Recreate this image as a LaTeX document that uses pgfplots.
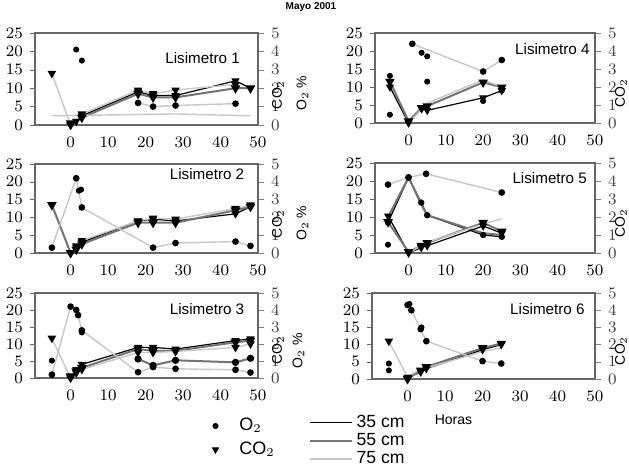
\documentclass[border=0pt]{standalone}
\usepackage{fontspec}
\setsansfont{Liberation Sans}
\usepackage{pgfplots}
\pgfplotsset{compat=1.18}

\tikzset{lis/.style={anchor=north east, inner sep=0pt, font=\fontsize{7.6}{9}\selectfont\sffamily}}
\pgfplotsset{
  l35/.style={black, line width=0.6pt},
  l55/.style={black!55, line width=1pt},
  l75/.style={black!22, line width=0.7pt},
  tri/.style={mark=triangle*, mark size=1.8pt, mark options={rotate=180, fill=black, draw=black, solid}},
  circ/.style={mark=*, mark size=1.3pt, mark options={fill=black, draw=black, solid}},
  panel/.style={
    scale only axis, ymin=0, ymax=25, ytick={0,5,...,25},
    xtick={0,10,...,50}, xmax=50,
    axis line style={black!60, line width=0.9pt},
    tick label style={font=\footnotesize},
    ytick pos=left, xtick pos=bottom, tick align=outside,
    major tick length=2.5pt, major x tick style={draw=none},
    y tick style={black!60},
  },
  rpanel/.style={
    scale only axis, ymin=0, ymax=5, ytick={0,...,5}, xmax=50,
    axis x line=none, axis y line*=right,
    axis line style={black!60, line width=0.9pt},
    tick label style={font=\footnotesize, black!75},
    tick align=outside, major tick length=3pt, y tick style={black!50},
    ylabel={CO$_2$},
    ylabel style={font=\scriptsize\sffamily, at={(rel axis cs:1,0.33)}, anchor=center, yshift=-#1},
  },
  rpanel/.default=10pt,
  olabel/.style={ylabel={O$_2$ \%},
    ylabel style={font=\scriptsize\sffamily, at={(rel axis cs:-0.33,0.33)}, anchor=center}},
}

\begin{document}
\begin{tikzpicture}
\useasboundingbox (0,0) rectangle (314.5pt,233pt);
\node[font=\fontsize{5}{6}\selectfont\sffamily\bfseries] at (155.5pt,229.5pt) {Mayo 2001};

% ---------- Lisimetro 1
\begin{axis}[panel, at={(17.5pt,170.5pt)}, anchor=south west, width=111.5pt, height=46pt, xmin=-9.5]
\addplot[l75, tri] coordinates {(-5,14) (0,0)};
\addplot[l35, tri] coordinates {(0,0) (1.5,1) (3,2.5) (18,9) (22,8) (28,8) (44,12) (48,10)};
\addplot[l55, tri] coordinates {(0,0.5) (3,2) (18,8.5) (22,7.5) (28,7.5) (44,10) (48,10)};
\addplot[l75, tri] coordinates {(0,0) (3,3) (18,9.5) (22,8.5) (28,9.5) (44,11)};
\addplot[only marks, circ] coordinates {(1.5,20.5) (3,17.5)};
\addplot[l75, circ] coordinates {(18,6) (22,5) (28,5.3) (44,5.8)};
\addplot[l75] coordinates {(-5,2.5) (28,3) (48,2.5)};
\node[lis] at (rel axis cs:0.92,0.79) {Lisimetro 1};
\end{axis}
\begin{axis}[rpanel, at={(17.5pt,170.5pt)}, anchor=south west, width=111.5pt, height=46pt, xmin=-9.5]
\end{axis}

% ---------- Lisimetro 2
\begin{axis}[panel, at={(17.5pt,106.5pt)}, anchor=south west, width=111.5pt, height=44.5pt, xmin=-9.5]
\addplot[l55, tri] coordinates {(-5,13.5) (0,0)};
\addplot[l35, tri] coordinates {(0,0) (1.5,1.5) (3,3) (18,9) (22,9.5) (28,9) (44,11) (48,13)};
\addplot[l55, tri] coordinates {(1.5,1) (3,2.5) (18,8.5) (22,8.5) (28,8.5) (44,12) (48,13)};
\addplot[l75, tri] coordinates {(1.5,2) (3,3.5) (18,9) (22,9.8) (28,9.5) (44,12.5) (48,13.5)};
\addplot[l75, circ] coordinates {(-5,1.5) (1.5,21) (3,12.8) (22,1.5) (28,2.8) (44,3.2) (48,2)};
\addplot[only marks, circ] coordinates {(2.2,17.5) (2.8,17.8)};
\node[lis] at (rel axis cs:0.94,0.95) {Lisimetro 2};
\end{axis}
\begin{axis}[rpanel, at={(17.5pt,106.5pt)}, anchor=south west, width=111.5pt, height=44.5pt, xmin=-9.5]
\end{axis}

% ---------- Lisimetro 3
\begin{axis}[panel, at={(17.5pt,44pt)}, anchor=south west, width=111.5pt, height=42.5pt, xmin=-9.5]
\addplot[l75, tri] coordinates {(-5,11.7) (0,0)};
\addplot[l35, tri] coordinates {(0,0) (1.5,2.5) (3,4) (18,9) (22,9) (28,8.5) (44,11) (48,11.5)};
\addplot[l55, tri] coordinates {(0,0.5) (1.5,2) (3,3) (18,8.5) (22,8) (28,8) (44,10.5) (48,11)};
\addplot[l75, tri] coordinates {(0,0.5) (1.5,1.5) (3,2.5) (18,7.5) (22,7.5) (28,7.8) (44,9) (48,10)};
\addplot[l55, circ] coordinates {(18,5.6) (22,3.7) (28,5.2) (44,4.6) (48,5.8)};
\addplot[l75, circ] coordinates {(-5,1) (0,21) (1.5,20) (2,18.5) (3,14) (18,1.7) (22,3.2) (28,2.7) (44,2.4) (48,1.6)};
\addplot[only marks, circ] coordinates {(-5,5.1) (3,13.4)};
\node[lis] at (rel axis cs:0.94,0.88) {Lisimetro 3};
\end{axis}
\begin{axis}[rpanel, at={(17.5pt,44pt)}, anchor=south west, width=111.5pt, height=42.5pt, xmin=-9.5]
\end{axis}

% ---------- Lisimetro 4
\begin{axis}[panel, olabel, at={(187.5pt,171.5pt)}, anchor=south west, width=110pt, height=45pt, xmin=-9]
\addplot[l35, tri] coordinates {(-5,10) (0,0) (3.5,4) (5,3.5) (20,7) (25,9)};
\addplot[l55, tri] coordinates {(-5,11.5) (0,0.5) (3.5,4.2) (5,4.7) (20,11.3) (25,9.9)};
\addplot[l75] coordinates {(0,0) (5,5.5) (20,12) (25,10)};
\addplot[l75, circ] coordinates {(1,22) (20,14.3) (25,17.5)};
\addplot[only marks, circ] coordinates {(-5,13.1) (-5,2.3) (3.5,19.5) (5,18.5) (5,11.5) (20,6.1) (25,9)};
\node[lis] at (rel axis cs:0.977,0.89) {Lisimetro 4};
\end{axis}
\begin{axis}[rpanel=13pt, at={(187.5pt,171.5pt)}, anchor=south west, width=110pt, height=45pt, xmin=-9]
\end{axis}

% ---------- Lisimetro 5
\begin{axis}[panel, olabel, at={(187.5pt,106.5pt)}, anchor=south west, width=110pt, height=45pt, xmin=-9]
\addplot[l35, circ] coordinates {(-5.5,8.5) (0,21) (3.4,14) (5,10.5) (20,5) (25,4.5)};
\addplot[l55] coordinates {(-5.5,10) (0,21) (3.4,13.5) (5,10.5) (20,5.5) (25,5)};
\addplot[l35, tri] coordinates {(-5.5,10.3) (0,0) (3.4,1.5) (5,2) (20,7.5) (25,5.5)};
\addplot[l55, tri] coordinates {(-5.5,8.6) (0,0.3) (3.4,2) (5,2.8) (20,8.4) (25,6)};
\addplot[l75] coordinates {(0,0) (5,3) (20,8) (25,9.5)};
\addplot[l75, circ] coordinates {(-5.5,19) (0,21) (4.7,22) (25,16.8)};
\addplot[only marks, circ] coordinates {(-5.5,2.3)};
\node[lis] at (rel axis cs:0.965,0.9) {Lisimetro 5};
\end{axis}
\begin{axis}[rpanel=13pt, at={(187.5pt,106.5pt)}, anchor=south west, width=110pt, height=45pt, xmin=-9]
\end{axis}

% ---------- Lisimetro 6
\begin{axis}[panel, olabel, at={(186pt,43.5pt)}, anchor=south west, width=111.5pt, height=43pt, xmin=-9.5,
  xlabel={Horas}, xlabel style={font=\scriptsize\sffamily, xshift=-15pt}]
\addplot[l75, tri] coordinates {(-5,11) (0,0.5)};
\addplot[l35, tri] coordinates {(0,0.5) (3.5,2) (5,3) (20,8.5) (25,10)};
\addplot[l55, tri] coordinates {(0,0) (3.5,2.5) (5,3.5) (20,9) (25,10.3)};
\addplot[l75] coordinates {(0,0.8) (3.5,2.8) (5,3.2) (20,8) (25,9)};
\addplot[l75, circ] coordinates {(0,21.5) (1,20) (3.5,14.5) (5,11) (20,5.2) (25,4.5)};
\addplot[only marks, circ] coordinates {(-5,4.5) (-5,2.5) (0.5,21.8) (3.7,15)};
\node[lis] at (rel axis cs:0.955,0.88) {Lisimetro 6};
\end{axis}
\begin{axis}[rpanel=13pt, at={(186pt,43.5pt)}, anchor=south west, width=111.5pt, height=43pt, xmin=-9.5]
\end{axis}

% ---------- legends
\begin{axis}[at={(0,0)}, anchor=south west, scale only axis, width=314.5pt, height=233pt,
  xmin=0, xmax=1, ymin=0, ymax=1, hide axis,
  legend image code/.code={\path[draw=none] (0pt,0pt) -- (11pt,0pt); \draw[#1, draw=none] plot coordinates {(1pt,0pt)};},
  legend style={at={(rel axis cs:0.337,0.112)}, anchor=north west, draw=none, fill=none,
    font=\fontsize{9}{10}\selectfont\sffamily, row sep=0pt, inner sep=0pt, cells={anchor=west}}]
\addlegendimage{circ}
\addlegendentry{O$_2$}
\addlegendimage{tri}
\addlegendentry{CO$_2$}
\end{axis}
\begin{axis}[at={(0,0)}, anchor=south west, scale only axis, width=314.5pt, height=233pt,
  xmin=0, xmax=1, ymin=0, ymax=1, hide axis,
  legend image code/.code={\draw[#1] (0pt,0pt) -- (21pt,0pt);},
  legend style={at={(rel axis cs:0.49,0.119)}, anchor=north west, draw=none, fill=none,
    font=\fontsize{8.8}{10}\selectfont\sffamily, row sep=-2.5pt, inner sep=0pt, cells={anchor=west}}]
\addlegendimage{l35}
\addlegendentry{35 cm}
\addlegendimage{l55}
\addlegendentry{55 cm}
\addlegendimage{l75}
\addlegendentry{75 cm}
\end{axis}
\end{tikzpicture}
\end{document}
